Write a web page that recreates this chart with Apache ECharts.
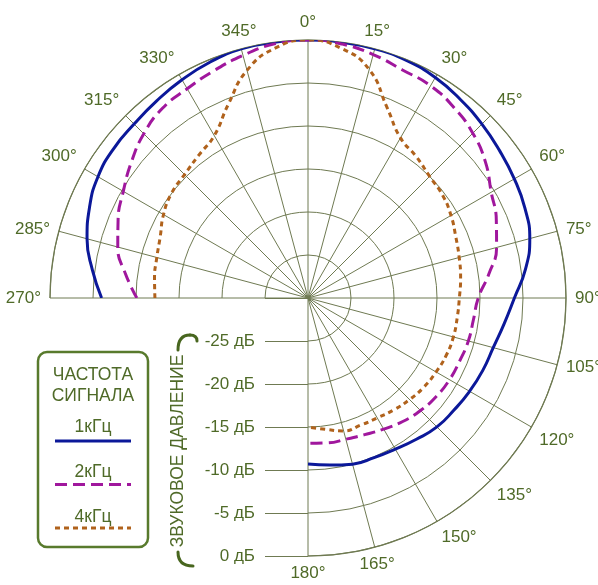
<!DOCTYPE html>
<html>
<head>
<meta charset="utf-8">
<script src="https://cdn.jsdelivr.net/npm/echarts@6/dist/echarts.min.js"></script>
<style>
  html, body { margin: 0; padding: 0; background: #ffffff; }
  #chart { width: 598px; height: 585px; }
</style>
</head>
<body>
<div id="chart"></div>
<script>
// Measurement directions, compass degrees (0 = front, clockwise), 7.5° apart
const angles = [270, 277.5, 285, 292.5, 300, 307.5, 315, 322.5, 330, 337.5, 345, 352.5,
                0, 7.5, 15, 22.5, 30, 37.5, 45, 52.5, 60, 67.5, 75, 82.5,
                90, 97.5, 105, 112.5, 120, 127.5, 135, 142.5, 150, 157.5, 165, 172.5, 180];

// Sound pressure level relative to the front direction, dB
const level1k = [-6.0, -4.7, -3.4, -2.5, -1.8, -1.5, -1.4, -1.1, -0.7, -0.3, 0, 0,
                 0, 0, 0, -0.1, -0.4, -0.9, -1.4, -1.9, -2.3, -2.7, -3.3, -4.5,
                 -6.0, -7.0, -7.7, -8.0, -8.3, -8.6, -8.8, -9.3, -9.7, -9.9, -10.0, -10.4, -10.7];
const level2k = [-10.1, -8.6, -7.1, -6.1, -5.2, -4.1, -3.0, -2.2, -1.9, -1.4, -0.8, -0.2,
                 0, -0.2, -0.7, -1.3, -1.5, -2.1, -2.9, -4.0, -5.4, -6.3, -7.3, -8.8,
                 -10.2, -10.6, -10.7, -10.9, -11.0, -11.2, -11.5, -11.9, -12.4, -12.8, -13.0, -13.0, -13.1];
const level4k = [-12.2, -12.0, -11.8, -11.4, -10.6, -10.0, -9.7, -9.1, -8.2, -5.7, -2.6, -0.7,
                 0, -0.7, -2.5, -6.0, -8.5, -9.3, -10.0, -10.3, -10.8, -11.4, -11.8, -12.1,
                 -12.4, -12.5, -12.5, -12.6, -12.8, -13.0, -13.3, -13.6, -13.9, -14.0, -14.0, -14.6, -15.0];

const seriesNames = ['1кГц', '2кГц', '4кГц'];
const legendTitle = ['ЧАСТОТА', 'СИГНАЛА'];
const radialTitle = 'ЗВУКОВОЕ ДАВЛЕНИЕ';
const dbTicks = { min: -30, max: 0, step: 5 };
const angleTicks = { min: -90, max: 180, step: 15 };

const GRID = '#6f7a52';
const TEXT = '#4f6a28';
const FONT = 'Liberation Sans, Arial, sans-serif';

const lineStyles = [
  { color: '#0b1899', width: 3, type: 'solid' },
  { color: '#a0179d', width: 3, type: [12, 6] },
  { color: '#b0621c', width: 3, type: [5, 4] }
];

// compass angle -> signed angle so the sweep runs 270 -> 0 -> 180
const toAxisAngle = a => (a > 180 ? a - 360 : a);
const levels = [level1k, level2k, level4k];

const CX = 308, CY = 298, R = 258;

const chart = echarts.init(document.getElementById('chart'), null, { renderer: 'canvas' });

const legendX = 93, legendTop = 352;
const legendFont = '17.5px ' + FONT;
const legendGraphics = [
  {
    type: 'rect',
    shape: { x: 38, y: legendTop, width: 110, height: 195, r: 9 },
    style: { fill: 'none', stroke: '#587a2c', lineWidth: 2.5 }
  },
  {
    type: 'text', x: legendX, y: 375,
    style: { text: legendTitle[0], fill: TEXT, font: legendFont, align: 'center', verticalAlign: 'middle' }
  },
  {
    type: 'text', x: legendX, y: 396,
    style: { text: legendTitle[1], fill: TEXT, font: legendFont, align: 'center', verticalAlign: 'middle' }
  }
];
seriesNames.forEach((name, i) => {
  const ty = 427 + i * 45;
  const ly = 441 + i * 43.5;
  legendGraphics.push({
    type: 'text', x: legendX, y: ty,
    style: { text: name, fill: TEXT, font: legendFont, align: 'center', verticalAlign: 'middle' }
  });
  legendGraphics.push({
    type: 'line',
    shape: { x1: 55, y1: ly, x2: 131, y2: ly },
    style: { stroke: lineStyles[i].color, lineWidth: 3,
             lineDash: lineStyles[i].type === 'solid' ? null : lineStyles[i].type }
  });
});

const bracketStyle = { fill: 'none', stroke: '#48661f', lineWidth: 3, lineCap: 'round' };

const option = {
  backgroundColor: '#ffffff',
  animation: false,
  textStyle: { fontFamily: FONT },
  polar: { center: [CX, CY], radius: R },
  angleAxis: {
    type: 'value',
    min: angleTicks.min,
    max: angleTicks.max,
    interval: angleTicks.step,
    startAngle: 180,
    endAngle: -90,
    clockwise: true,
    axisLine: { show: true, lineStyle: { color: GRID, width: 1.2 } },
    axisTick: { show: false },
    axisLabel: {
      color: TEXT, fontSize: 17, margin: 9,
      formatter: v => (v < 0 ? v + 360 : v) + '°'
    },
    splitLine: { show: true, lineStyle: { color: GRID, width: 1 } }
  },
  radiusAxis: {
    type: 'value',
    min: dbTicks.min,
    max: dbTicks.max,
    interval: dbTicks.step,
    axisLine: { show: false },
    axisTick: { show: false },
    axisLabel: { show: false },
    splitLine: { show: true, lineStyle: { color: GRID, width: 1 } }
  },
  // dB scale hung along the 180° spoke
  grid: { left: CX, top: CY, width: 10, height: R },
  xAxis: { type: 'value', show: false, min: 0, max: 1 },
  yAxis: {
    type: 'value',
    min: dbTicks.min,
    max: dbTicks.max,
    interval: dbTicks.step,
    inverse: true,
    position: 'left',
    axisLine: { show: false },
    axisTick: { show: true, length: 43, lineStyle: { color: GRID, width: 1 } },
    axisLabel: {
      color: TEXT, fontSize: 17, margin: 53,
      formatter: v => (v === dbTicks.min ? '' : v + ' дБ')
    },
    splitLine: { show: false }
  },
  graphic: [
    ...legendGraphics,
    {
      type: 'text', x: 178, y: 451, rotation: Math.PI / 2,
      style: { text: radialTitle, fill: TEXT, font: '17.5px ' + FONT, align: 'center', verticalAlign: 'middle' }
    },
    {
      type: 'bezierCurve',
      shape: { x1: 178, y1: 350, cpx1: 178, cpy1: 335, x2: 190, y2: 335 },
      style: bracketStyle
    },
    {
      type: 'bezierCurve',
      shape: { x1: 190, y1: 335, cpx1: 197, cpy1: 335, x2: 197, y2: 341 },
      style: bracketStyle
    },
    {
      type: 'bezierCurve',
      shape: { x1: 178, y1: 552, cpx1: 178, cpy1: 566, x2: 193, y2: 566 },
      style: bracketStyle
    }
  ],
  series: seriesNames.map((name, i) => ({
    name,
    type: 'line',
    coordinateSystem: 'polar',
    polarIndex: 0,
    showSymbol: false,
    smooth: 0.5,
    lineStyle: lineStyles[i],
    data: angles.map((a, k) => [levels[i][k], toAxisAngle(a)])
  }))
};

chart.setOption(option);
</script>
</body>
</html>
